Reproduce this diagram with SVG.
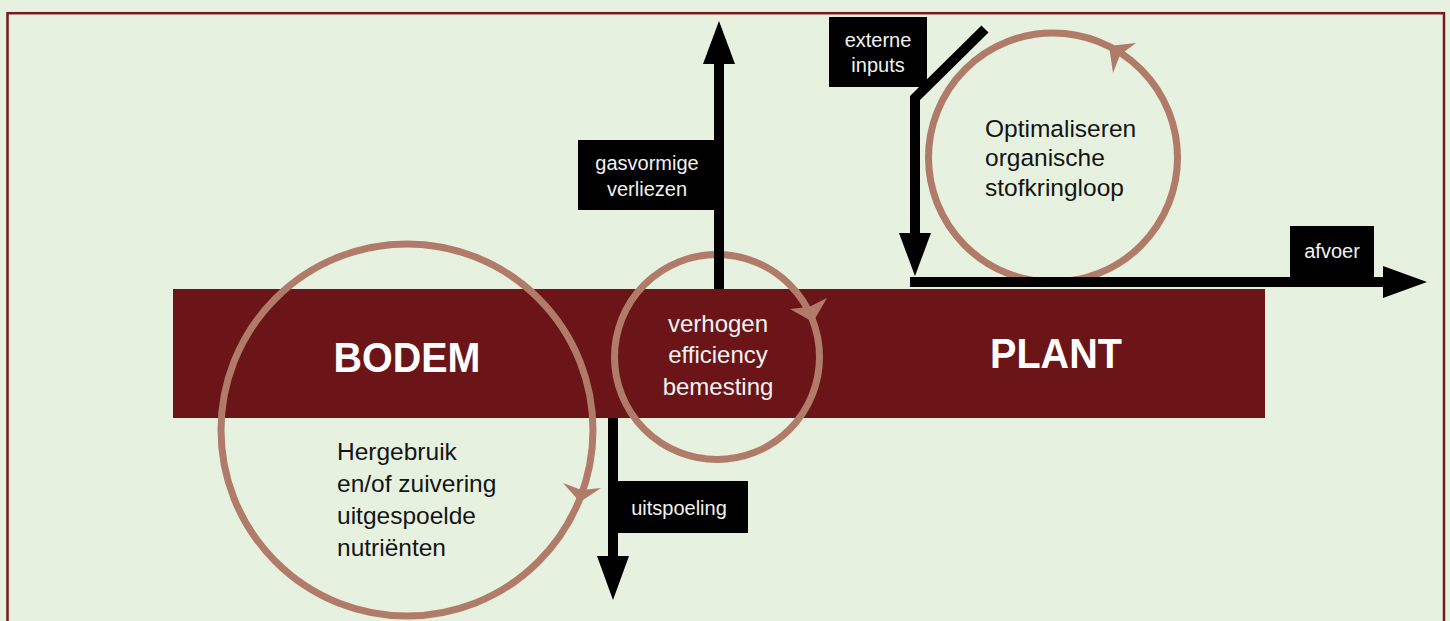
<svg xmlns="http://www.w3.org/2000/svg" width="1450" height="621" viewBox="0 0 1450 621">
  <defs>
    <style>
      .bg { fill: #e6f1df; }
      .frame { fill: none; stroke: #7a1a1e; stroke-width: 2.5; }
      .bar { fill: #6b1519; }
      .ring { fill: none; stroke: #b07b69; stroke-width: 7; }
      .ringhead { fill: #b07b69; }
      .line { fill: none; stroke: #000; stroke-width: 10; stroke-linejoin: miter; }
      .head { fill: #000; }
      .box { fill: #000; }
      .lbl { font-family: "Liberation Sans", Arial, sans-serif; font-size: 20px; fill: #f2f2f2; text-anchor: middle; }
      .title { font-family: "Liberation Sans", Arial, sans-serif; font-size: 43px; font-weight: bold; fill: #ffffff; text-anchor: middle; }
      .dark { font-family: "Liberation Sans", Arial, sans-serif; font-size: 24.5px; fill: #141414; }
      .light { font-family: "Liberation Sans", Arial, sans-serif; font-size: 24px; fill: #f2f2f2; text-anchor: middle; }
    </style>
  </defs>

  <rect class="bg" x="0" y="0" width="1450" height="621"/>
  <rect class="frame" x="7.5" y="13.2" width="1436.5" height="640"/>

  <g id="bar">
    <rect class="bar" x="173" y="289" width="1092" height="129"/>
  </g>

  <g id="bodem">
    <text class="title" x="407" y="372" textLength="147" lengthAdjust="spacingAndGlyphs">BODEM</text>
  </g>
  <g id="plant">
    <text class="title" x="1056" y="368" textLength="132" lengthAdjust="spacingAndGlyphs">PLANT</text>
  </g>

  <g id="cycle-hergebruik">
    <circle class="ring" cx="407" cy="430" r="186"/>
    <polygon class="ringhead" points="580,502 563,483 581.5,490 601,488"/>
    <text class="dark" x="337" y="460">Hergebruik</text>
    <text class="dark" x="337" y="492">en/of zuivering</text>
    <text class="dark" x="337" y="524">uitgespoelde</text>
    <text class="dark" x="337" y="556">nutriënten</text>
  </g>

  <g id="cycle-verhogen">
    <circle class="ring" cx="717" cy="357" r="102.5"/>
    <polygon class="ringhead" points="813,322 790,309 809,307 827,298"/>
    <text class="light" x="718" y="332">verhogen</text>
    <text class="light" x="718" y="363">efficiency</text>
    <text class="light" x="718" y="395">bemesting</text>
  </g>

  <g id="cycle-optimaliseren">
    <circle class="ring" cx="1053" cy="157.5" r="124.5"/>
    <polygon class="ringhead" points="1109,46 1136,43 1120,55 1113,73"/>
    <text class="dark" x="985" y="136.5">Optimaliseren</text>
    <text class="dark" x="985" y="166">organische</text>
    <text class="dark" x="985" y="195.5">stofkringloop</text>
  </g>

  <g id="connectors">
    <!-- gasvormige verliezen (up) -->
    <line class="line" x1="719" y1="289" x2="719" y2="62"/>
    <polygon class="head" points="703,64 735,64 719,21"/>
    <!-- externe inputs (down) -->
    <polyline class="line" points="985,29 915,98 915,236"/>
    <polygon class="head" points="899,233 931,233 915,276"/>
    <!-- afvoer (right) -->
    <line class="line" x1="910" y1="282" x2="1386" y2="282"/>
    <polygon class="head" points="1383,266 1383,298 1427,282"/>
    <!-- uitspoeling (down) -->
    <line class="line" x1="613" y1="418" x2="613" y2="558"/>
    <polygon class="head" points="597,556 629,556 613,600"/>
  </g>

  <g id="label-gasvormige">
    <rect class="box" x="578" y="140" width="140" height="70"/>
    <text class="lbl" x="647" y="170">gasvormige</text>
    <text class="lbl" x="647" y="196">verliezen</text>
  </g>
  <g id="label-externe">
    <rect class="box" x="829" y="17" width="98" height="70"/>
    <text class="lbl" x="878" y="47">externe</text>
    <text class="lbl" x="878" y="72">inputs</text>
  </g>
  <g id="label-afvoer">
    <rect class="box" x="1290" y="226" width="84" height="52"/>
    <text class="lbl" x="1332" y="258">afvoer</text>
  </g>
  <g id="label-uitspoeling">
    <rect class="box" x="613" y="481" width="135" height="52"/>
    <text class="lbl" x="679" y="515">uitspoeling</text>
  </g>
</svg>
